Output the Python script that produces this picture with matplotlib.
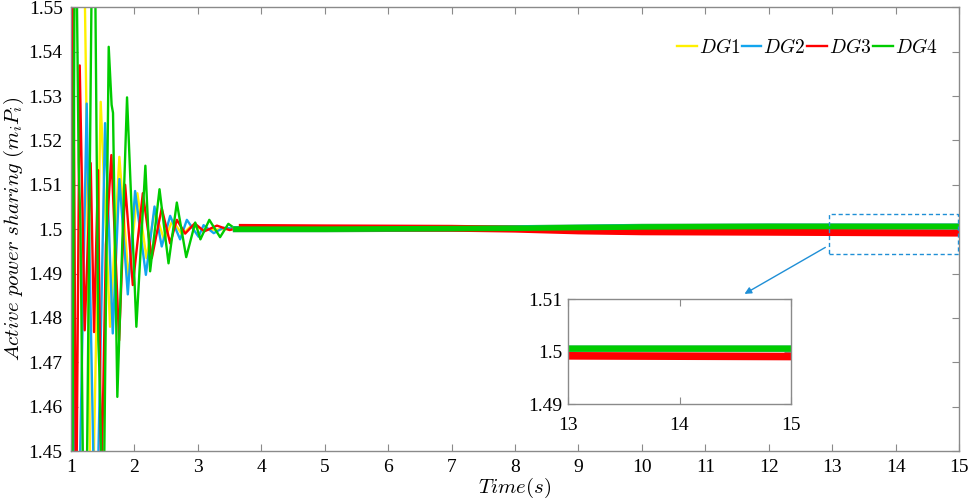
import matplotlib
matplotlib.use("Agg")
import matplotlib.pyplot as plt
from matplotlib.patches import Rectangle

plt.rcParams['font.family'] = ['Liberation Serif', 'DejaVu Serif']
plt.rcParams['mathtext.fontset'] = 'cm'

# transient part, extrema (values outside 1.45..1.55 are clipped anyway)
t_dg1 = [1.00, 1.06, 1.17, 1.24, 1.32, 1.468, 1.615, 1.762, 1.905, 2.046, 2.19, 2.32, 2.47, 2.60, 2.75, 2.90, 3.10, 3.60]
y_dg1 = [1.5306, 1.58, 1.60, 1.5298, 1.42, 1.5287, 1.478, 1.5163, 1.489, 1.5081, 1.4935, 1.5042, 1.4975, 1.502, 1.4988, 1.5008, 1.4998, 1.5001]

t_dg2 = [1.00, 1.08, 1.247, 1.39, 1.537, 1.658, 1.763, 1.895, 2.01, 2.18, 2.316, 2.43, 2.563, 2.72, 2.826, 3.01, 3.09, 3.25, 3.40, 3.60]
y_dg2 = [1.5356, 1.40, 1.5283, 1.42, 1.5239, 1.4765, 1.5113, 1.4853, 1.5086, 1.4897, 1.5051, 1.4961, 1.503, 1.4977, 1.5021, 1.4983, 1.5009, 1.4991, 1.5003, 1.5001]

t_dg3 = [1.00, 1.03, 1.08, 1.137, 1.216, 1.31, 1.363, 1.426, 1.478, 1.55, 1.636, 1.758, 1.853, 1.974, 2.132, 2.274, 2.43, 2.563, 2.668, 2.80, 2.95, 3.10, 3.30, 3.50, 3.70]
y_dg3 = [1.4672, 1.57, 1.43, 1.5369, 1.4772, 1.5149, 1.4768, 1.5133, 1.44, 1.4965, 1.5167, 1.4749, 1.510, 1.4874, 1.5081, 1.4935, 1.5047, 1.4968, 1.5021, 1.499, 1.5013, 1.4995, 1.5008, 1.4998, 1.5004]

t_dg4 = [1.00, 1.015, 1.065, 1.12, 1.137, 1.15, 1.22, 1.355, 1.43, 1.445, 1.46, 1.51, 1.594, 1.64, 1.662, 1.73, 1.883, 2.03, 2.172, 2.247, 2.395, 2.537, 2.668, 2.816, 2.958, 3.04, 3.18, 3.35, 3.48, 3.60]
y_dg4 = [1.54, 1.42, 1.59, 1.515, 1.5066, 1.50, 1.40, 1.60, 1.475, 1.469, 1.46, 1.43, 1.5411, 1.528, 1.5262, 1.4622, 1.5297, 1.478, 1.5143, 1.4905, 1.509, 1.4923, 1.506, 1.4937, 1.5015, 1.4977, 1.5021, 1.4982, 1.5012, 1.5000]

# steady state levels (centre of the noisy band)
ts_g = [3.60, 5.0, 8.0, 10.0, 12.0, 15.0]
ys_g = [1.5000, 1.5000, 1.5002, 1.5005, 1.5006, 1.5006]
ts_r = [3.70, 5.0, 7.0, 8.0, 9.0, 10.0, 12.0, 15.0]
ys_r = [1.5004, 1.5003, 1.5002, 1.5000, 1.4996, 1.4994, 1.4993, 1.4991]

labels = ['$DG1$', '$DG2$', '$DG3$', '$DG4$']
colors = ['#FFF000', '#12A5EE', '#FF0000', '#00CC00']

xticks = list(range(1, 16))
yticks = [1.45, 1.46, 1.47, 1.48, 1.49, 1.50, 1.51, 1.52, 1.53, 1.54, 1.55]
ylabels = ['1.45', '1.46', '1.47', '1.48', '1.49', '1.5', '1.51', '1.52', '1.53', '1.54', '1.55']

axis_grey = '#8a8a8a'


def style(ax):
    for s in ax.spines.values():
        s.set_color(axis_grey)
        s.set_linewidth(1.0)
    ax.tick_params(direction='in', top=True, right=True, length=5, color=axis_grey,
                   labelsize=14, pad=6)


fig = plt.figure(figsize=(9.69, 5.01), dpi=100)
ax = fig.add_axes([0.0733, 0.0998, 0.9164, 0.8856])

series = [(t_dg1, y_dg1), (t_dg2, y_dg2), (t_dg3, y_dg3), (t_dg4, y_dg4)]
for (t, y), c, lab in zip(series, colors, labels):
    ax.plot(t, y, color=c, lw=1.7, label=lab)

# steady bands: DG1/DG2 hidden under DG4
ax.plot(ts_g, ys_g, color=colors[0], lw=4.5)
ax.plot(ts_g, ys_g, color=colors[1], lw=4.5)
ax.plot(ts_r, ys_r, color=colors[2], lw=5.0)
ax.plot(ts_g, ys_g, color=colors[3], lw=4.0)

ax.set_xlim(1, 15)
ax.set_ylim(1.45, 1.55)
ax.set_xticks(xticks)
ax.set_yticks(yticks)
ax.set_yticklabels(ylabels)
style(ax)
ax.set_xlabel('$Time(s)$', fontsize=15, labelpad=0)
ax.set_ylabel('$Active\\ power\\ sharing\\ (m_iP_i)$', fontsize=15, labelpad=2)

ax.legend(loc='center right', bbox_to_anchor=(0.995, 0.909), ncol=4, frameon=False,
          fontsize=14, handlelength=1.0, handletextpad=0.1, columnspacing=0.1)

# zoom box and arrow
ax.add_patch(Rectangle((12.95, 1.4944), 2.04, 0.0091, fill=False, edgecolor='#1f8fd6',
                       linestyle=(0, (3, 2)), lw=1.0, zorder=5))
ax.annotate('', xy=(11.58, 1.4851), xytext=(12.93, 1.4962),
            arrowprops=dict(arrowstyle='-|>', color='#1f8fd6', lw=1.0, mutation_scale=10))

# inset
axi = fig.add_axes([0.5862, 0.1930, 0.2301, 0.2096])
axi.plot(ts_g, ys_g, color=colors[0], lw=4.5)
axi.plot(ts_g, ys_g, color=colors[1], lw=4.5)
axi.plot(ts_r, ys_r, color=colors[2], lw=5.5)
axi.plot(ts_g, ys_g, color=colors[3], lw=4.5)
axi.set_xlim(13, 15)
axi.set_ylim(1.49, 1.51)
axi.set_xticks([13, 14, 15])
axi.set_yticks([1.49, 1.50, 1.51])
axi.set_yticklabels(['1.49', '1.5', '1.51'])
style(axi)
axi.tick_params(axis='y', pad=4)
axi.tick_params(axis='x', pad=9)

fig.savefig('out.png', dpi=100)
